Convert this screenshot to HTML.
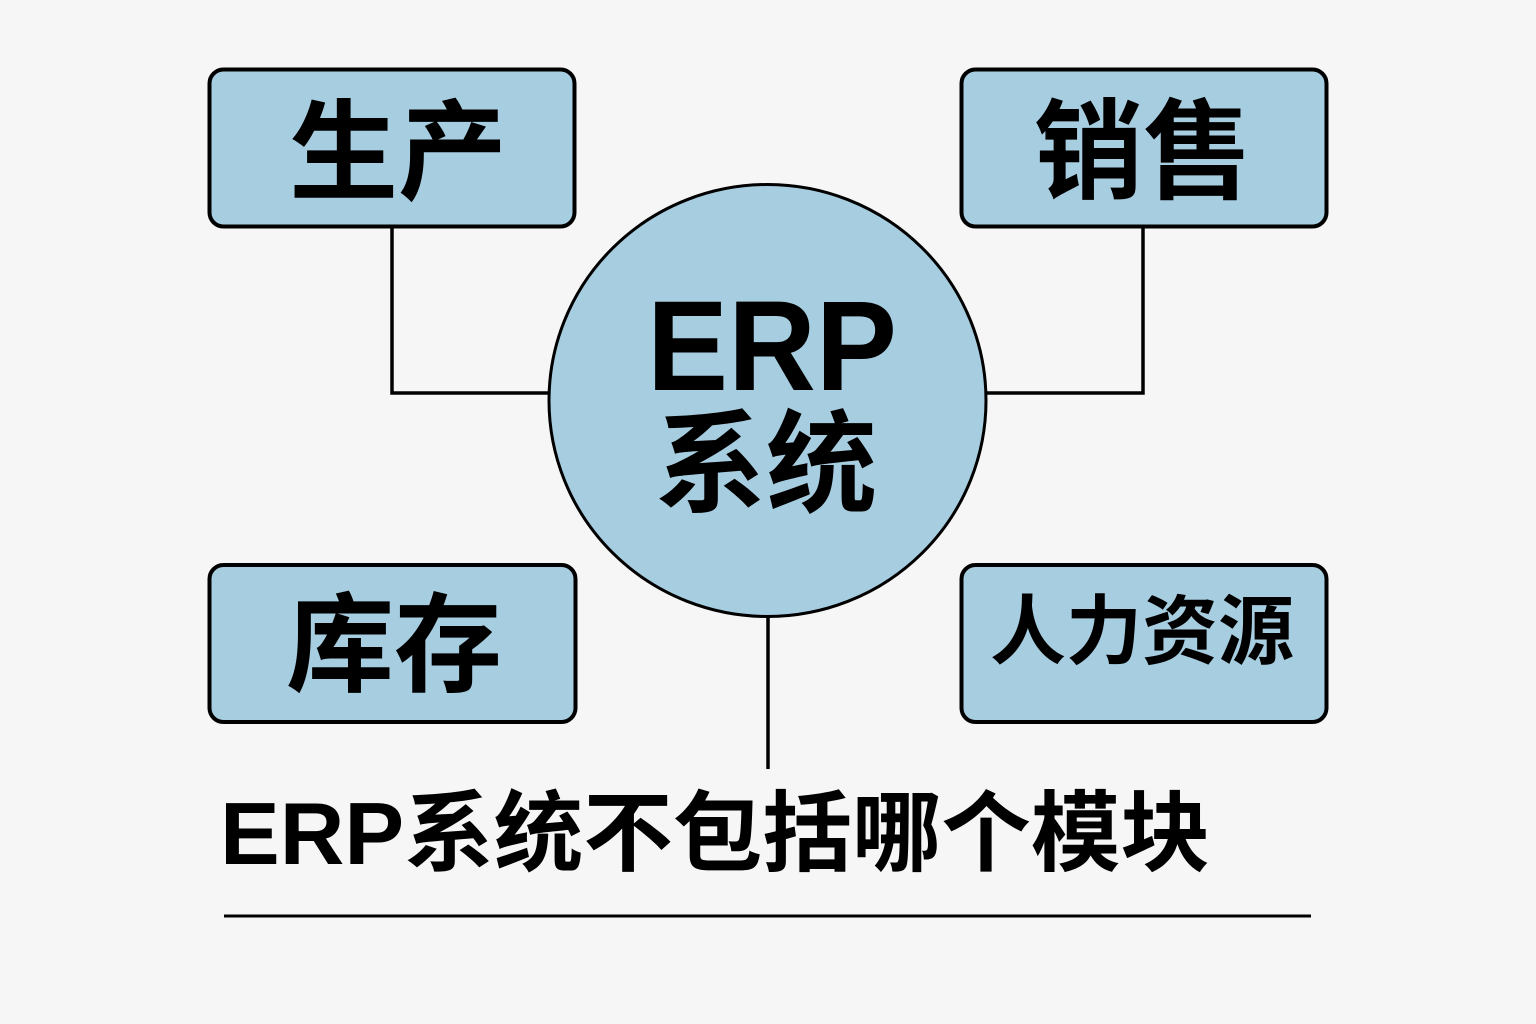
<!DOCTYPE html>
<html>
<head>
<meta charset="utf-8">
<style>
  html, body { margin:0; padding:0; background:#f6f6f6; }
  body { width:1536px; height:1024px; overflow:hidden; }
  svg { display:block; }
  .cjk { font-family:"Liberation Sans","Noto Sans CJK SC",sans-serif; font-weight:700; fill:#000; }
</style>
</head>
<body>
<svg width="1536" height="1024" viewBox="0 0 1536 1024" xmlns="http://www.w3.org/2000/svg">
  <rect x="0" y="0" width="1536" height="1024" fill="#f6f6f6"/>

  <!-- connectors -->
  <polyline points="392,228 392,393 550,393" fill="none" stroke="#000" stroke-width="3.5"/>
  <polyline points="1143,228 1143,393 985,393" fill="none" stroke="#000" stroke-width="3.5"/>
  <line x1="768" y1="615" x2="768" y2="769" stroke="#000" stroke-width="3.5"/>

  <!-- boxes -->
  <rect x="209.5" y="69.5" width="365" height="157" rx="14" fill="#a7cde0" stroke="#000" stroke-width="4"/>
  <rect x="961.5" y="69.5" width="365" height="157" rx="14" fill="#a7cde0" stroke="#000" stroke-width="4"/>
  <rect x="209.5" y="565" width="366" height="157" rx="14" fill="#a7cde0" stroke="#000" stroke-width="4"/>
  <rect x="961.5" y="565" width="365" height="157" rx="14" fill="#a7cde0" stroke="#000" stroke-width="4"/>

  <!-- circle -->
  <ellipse cx="767.5" cy="400.5" rx="218.5" ry="216" fill="#a7cde0" stroke="#000" stroke-width="3"/>

  <!-- labels -->
  <text class="cjk" x="398" y="191" font-size="109" text-anchor="middle">生产</text>
  <text class="cjk" x="1143" y="190" font-size="109" text-anchor="middle">销售</text>
  <text class="cjk" x="394" y="683" font-size="108" text-anchor="middle">库存</text>
  <text class="cjk" x="1142" y="658" font-size="76" text-anchor="middle">人力资源</text>

  <text class="cjk" x="772" y="390" font-size="128" text-anchor="middle" textLength="250" lengthAdjust="spacingAndGlyphs">ERP</text>
  <text class="cjk" x="766" y="503" font-size="111" text-anchor="middle">系统</text>

  <!-- title -->
  <text class="cjk" x="220" y="864" font-size="88" textLength="990" lengthAdjust="spacingAndGlyphs">ERP系统不包括哪个模块</text>
  <line x1="224" y1="916" x2="1311" y2="916" stroke="#000" stroke-width="3"/>
</svg>
</body>
</html>
